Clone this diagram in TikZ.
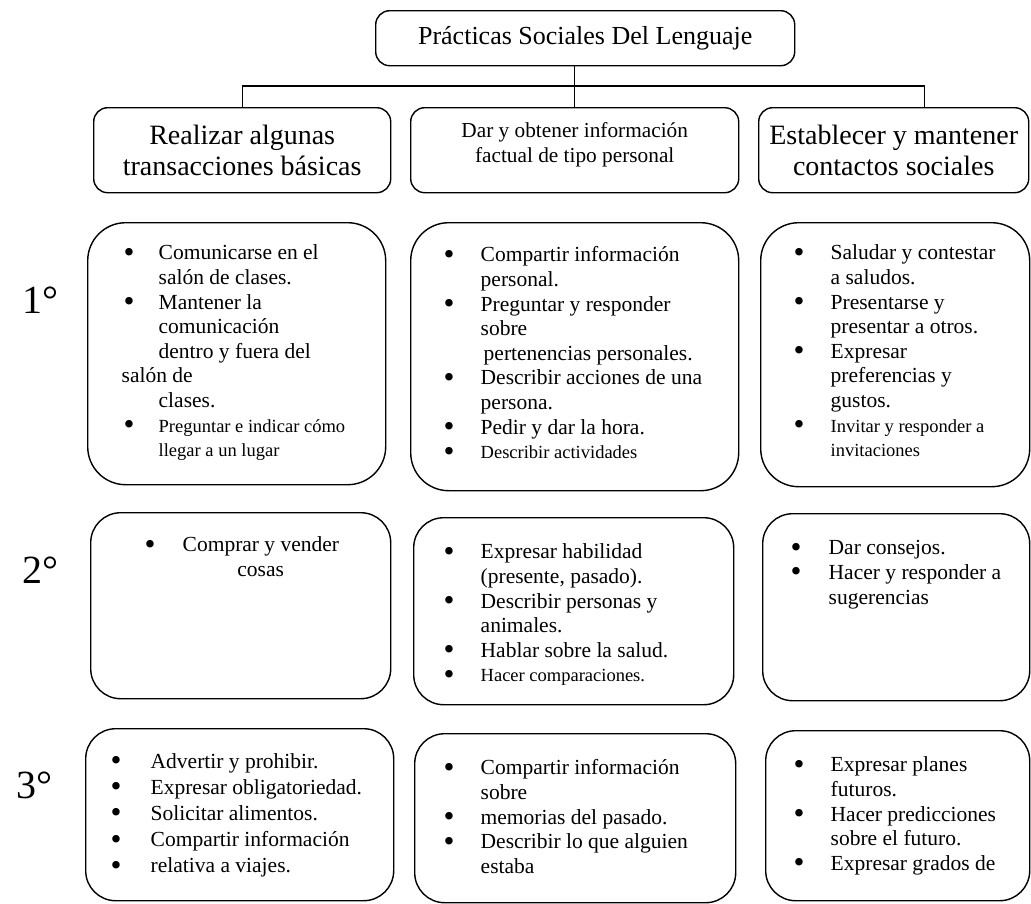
\documentclass[tikz,border=0pt]{standalone}
\usepackage{fontspec}
\usepackage{graphicx}
\setmainfont{Liberation Serif}
\usetikzlibrary{positioning,calc}

\newcommand{\bala}{\raisebox{-0.11em}{\scalebox{1.45}{\textbullet}}}
\newcommand{\bl}[1][36pt]{\strut\makebox[#1][l]{\hspace*{-1pt}\bala}}
\newcommand{\nb}[1][36pt]{\hspace*{#1}}
\newcommand{\sm}{\fontsize{18.5}{24.6}\selectfont}

\begin{document}
\begin{tikzpicture}[x=1pt, y=-1pt, line width=1.4pt,
	hdr/.style={draw, rounded corners=14pt, anchor=north west, align=center, inner sep=0pt},
	card/.style={draw, rounded corners=30pt, anchor=north west, inner sep=0pt},
	items/.style={anchor=north west, align=left, inner sep=0pt, font=\fontsize{21.5}{24.6}\selectfont},
	grado/.style={font=\fontsize{40}{42}\selectfont}]
\useasboundingbox (0,0) rectangle (1031,903);

% titulo y encabezados
\node [hdr, minimum width=419, minimum height=55, font=\fontsize{26}{30}\selectfont] (title) at (375,10) {Prácticas Sociales Del Lenguaje};
\node [hdr, minimum width=297, minimum height=85, font=\fontsize{28}{31}\selectfont] (hdr1) at (93,107) {Realizar algunas\\transacciones básicas};
\node [hdr, minimum width=328, minimum height=85, font=\fontsize{21.3}{25}\selectfont] (hdr2) at (410,107) {Dar y obtener información\\factual de tipo personal\\[-10pt]\mbox{}};
\node [hdr, minimum width=270, minimum height=85, font=\fontsize{28}{31}\selectfont] (hdr3) at (758,107) {Establecer y mantener\\contactos sociales};

\draw (title.south -| hdr2.north) -- (hdr2.north);
\draw (hdr1.north) -- ++(0,-21) -| ($(hdr3.north)+(31,0)$);

% grados
\node [grado] (g1) at (40,300) {1°};
\node [grado] (g2) at (40,570) {2°};
\node [grado] (g3) at (34,785) {3°};

% primer grado
\node [card, rounded corners=38pt, minimum width=298, minimum height=262] (b11) at (87,222) {};
\node [card, rounded corners=38pt, minimum width=328, minimum height=268] (b12) at (410,222) {};
\node [card, rounded corners=38pt, minimum width=269, minimum height=264] (b13) at (760,222) {};

\node [items] (t11) at (124,242) {\bl[34pt]Comunicarse en el\\ \nb[34pt]salón de clases.\\ \bl[34pt]Mantener la\\ \nb[34pt]comunicación\\ \nb[34pt]dentro y fuera del\\ \hspace*{-3pt}salón de\\ \nb[34pt]clases.\\ \bl[34pt]{\sm Preguntar e indicar cómo}\\ \nb[34pt]{\sm llegar a un lugar}};
\node [items] (t12) at (444,244) {\bl Compartir información\\ \nb personal.\\ \bl Preguntar y responder\\ \nb sobre\\ \nb[39pt]pertenencias personales.\\ \bl Describir acciones de una\\ \nb persona.\\ \bl Pedir y dar la hora.\\ \bl{\sm Describir actividades}};
\node [items] (t13) at (794,242) {\bl Saludar y contestar\\ \nb a saludos.\\ \bl Presentarse y\\ \nb presentar a otros.\\ \bl Expresar\\ \nb preferencias y\\ \nb gustos.\\ \bl{\sm Invitar y responder a}\\ \nb{\sm invitaciones}};

% segundo grado
\node [card, minimum width=300, minimum height=186] (b21) at (90,512) {};
\node [card, minimum width=320, minimum height=187] (b22) at (413,517) {};
\node [card, minimum width=267, minimum height=187] (b23) at (762,513) {};

\node [items] (t21) at (145,534) {\bl[37pt]Comprar y vender\\ \nb[37pt]\makebox[156pt]{cosas}};
\node [items] (t22) at (444,541) {\bl Expresar habilidad\\ \nb (presente, pasado).\\ \bl Describir personas y\\ \nb animales.\\ \bl Hablar sobre la salud.\\ \bl{\sm Hacer comparaciones.}};
\node [items] (t23) at (791,537) {\bl[37pt]Dar consejos.\\ \bl[37pt]Hacer y responder a\\ \nb[37pt]sugerencias};

% tercer grado
\node [card, minimum width=308, minimum height=172] (b31) at (85,728) {};
\node [card, minimum width=321, minimum height=169] (b32) at (414,733) {};
\node [card, minimum width=264, minimum height=170] (b33) at (765,730) {};

\node [items, font=\fontsize{21.5}{26.2}\selectfont] (t31) at (111,749) {\bl[39pt]Advertir y prohibir.\\ \bl[39pt]Expresar obligatoriedad.\\ \bl[39pt]Solicitar alimentos.\\ \bl[39pt]Compartir información\\ \bl[39pt]relativa a viajes.};
\node [items] (t32) at (444,757) {\bl Compartir información\\ \nb sobre\\ \bl memorias del pasado.\\ \bl Describir lo que alguien\\ \nb estaba};
\node [items] (t33) at (794,754) {\bl Expresar planes\\ \nb futuros.\\ \bl Hacer predicciones\\ \nb sobre el futuro.\\ \bl Expresar grados de};

\end{tikzpicture}
\end{document}
